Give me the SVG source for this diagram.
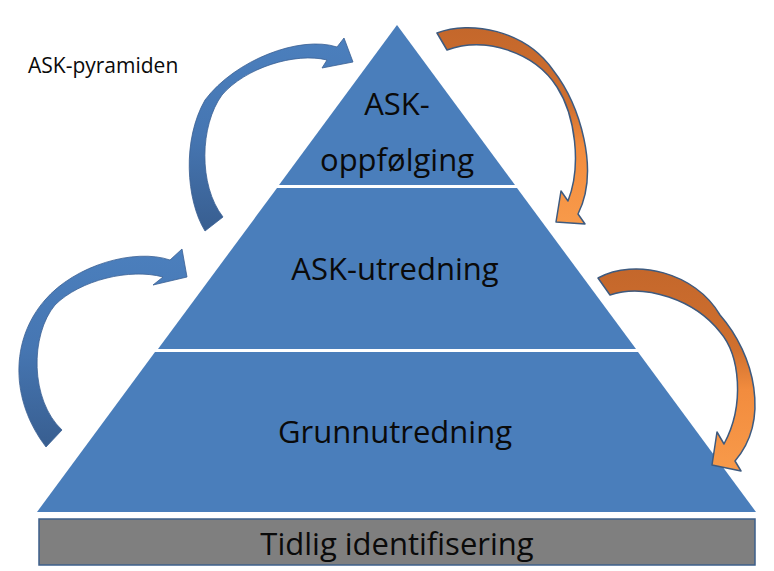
<svg xmlns="http://www.w3.org/2000/svg" width="774" height="571" viewBox="0 0 774 571">
  <style>
    .tier { fill: #4a7ebb; }
    .lbl { font-family: "Open Sans", "Liberation Sans", sans-serif; fill: #0a0a0a; text-anchor: middle; }
    .big { font-size: 31px; }
    .title { font-family: "Open Sans", "Liberation Sans", sans-serif; font-size: 21px; fill: #0a0a0a; }
    .barrow { fill: url(#blueGrad); stroke: #3a6093; stroke-width: 0.8; stroke-linejoin: round; }
    .oarrow { fill: url(#orangeGrad); stroke: #3d5a7f; stroke-width: 1.5; stroke-linejoin: round; }
  </style>
  <defs>
    <linearGradient id="blueGrad" x1="0" y1="0" x2="0" y2="1">
      <stop offset="0" stop-color="#4b7fbd"/>
      <stop offset="0.5" stop-color="#4676b2"/>
      <stop offset="1" stop-color="#385e90"/>
    </linearGradient>
    <linearGradient id="orangeGrad" x1="0" y1="0" x2="0" y2="1">
      <stop offset="0" stop-color="#c4672b"/>
      <stop offset="0.4" stop-color="#d0702f"/>
      <stop offset="0.6" stop-color="#f28c3e"/>
      <stop offset="1" stop-color="#f89a4a"/>
    </linearGradient>
  </defs>
  <rect x="0" y="0" width="774" height="571" fill="#ffffff"/>

  <g id="title">
    <text class="title" x="28" y="73">ASK-pyramiden</text>
  </g>

  <g id="tier-top">
    <polygon class="tier" points="397,25 515,185 279,185"/>
    <text class="lbl big" x="397" y="115">ASK-</text>
    <text class="lbl big" x="397" y="171">oppfølging</text>
  </g>

  <g id="tier-middle">
    <polygon class="tier" points="277,188 517,188 636,349 158,349"/>
    <text class="lbl big" x="395" y="280">ASK-utredning</text>
  </g>

  <g id="tier-bottom">
    <polygon class="tier" points="155,352 638,352 756,512 37,512"/>
    <text class="lbl big" x="395" y="443">Grunnutredning</text>
  </g>

  <g id="base">
    <rect x="39" y="519" width="716" height="46" fill="#7f7f7f" stroke="#3d5f8a" stroke-width="1.5"/>
    <text class="lbl big" x="397" y="555">Tidlig identifisering</text>
  </g>

  <g id="connectors">
    <path class="barrow" d="M205,231 C186,200 182,140 205,100 C235,60 300,35 337,47 L344,38 L353,62 L322,68 L327,60 C295,52 245,68 222,95 C200,125 198,185 223,217 Z"/>
    <path class="barrow" d="M46,447 C10,400 10,340 45,300 C75,265 135,248 170,260 L182,249 L187,277 L153,285 L163,277 C130,268 80,280 55,305 C30,335 30,400 62,430 Z"/>
    <path class="oarrow" d="M437,33 C470,20 525,30 553,70 C580,105 600,170 578,214 L585,224 L556,222 L561,191 L568,201 C582,165 575,115 557,87 C535,52 485,36 447,50 Z"/>
    <path class="oarrow" d="M598,278 C635,258 695,272 720,315 C755,355 770,420 735,461 L741,471 L712,465 L717,432 L724,444 C745,405 740,355 720,332 C695,300 645,283 610,295 Z"/>
  </g>
</svg>
